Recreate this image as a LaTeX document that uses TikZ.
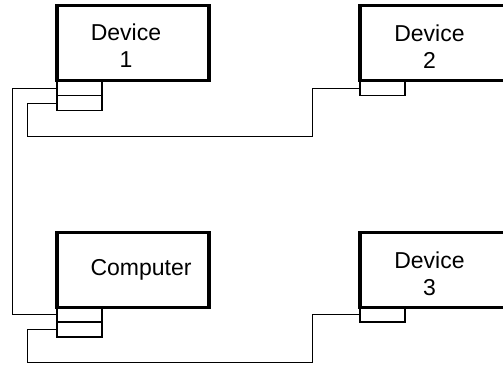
\documentclass[tikz,border=0pt]{standalone}
\usepackage{fontspec}
\setmainfont{Liberation Sans}
\begin{document}
\begin{tikzpicture}[x=1pt, y=-1pt,
  box/.style={draw, line width=3.5pt, minimum width=152pt, minimum height=75pt, inner sep=0pt, outer sep=0pt, anchor=north west},
  port/.style={draw, line width=1.8pt, minimum width=45pt, minimum height=15pt, inner sep=0pt, outer sep=0pt, anchor=north west},
  txt/.style={align=center, font=\fontsize{23}{27}\selectfont, inner sep=0pt},
  wire/.style={line width=1pt}]
\useasboundingbox (0,0) rectangle (503,365);
\clip (0,0) rectangle (503,365);
% boxes
\node[box] (dev1) at (57,5.5) {};
\node[box] (dev2) at (360,5.5) {};
\node[box] (comp) at (57,232.3) {};
\node[box] (dev3) at (360,232.3) {};
% ports
\node[port] (d1p1) at (dev1.south west) {};
\node[port] (d1p2) at (d1p1.south west) {};
\node[port] (d2p) at (dev2.south west) {};
\node[port] (cp1) at (comp.south west) {};
\node[port] (cp2) at (cp1.south west) {};
\node[port] (d3p) at (dev3.south west) {};
% labels
\node[txt] (d1t) at ([xshift=-7pt,yshift=-3pt]dev1.center) {Device\\1};
\node[txt] (d2t) at ([xshift=-6.5pt,yshift=-4pt]dev2.center) {Device\\2};
\node[txt] (ct) at ([xshift=8pt]comp.center) {Computer};
\node[txt] (d3t) at ([xshift=-6.5pt,yshift=-4pt]dev3.center) {Device\\3};
% wires
\draw[wire] (d1p1.west) -- ++(-44.7,0) |- (cp1.west);
\draw[wire] (d1p2.west) -- ++(-30,0) |- (312,136) |- (d2p.west);
\draw[wire] (cp2.west) -- ++(-30,0) |- (312,362.7) |- (d3p.west);
\end{tikzpicture}
\end{document}
